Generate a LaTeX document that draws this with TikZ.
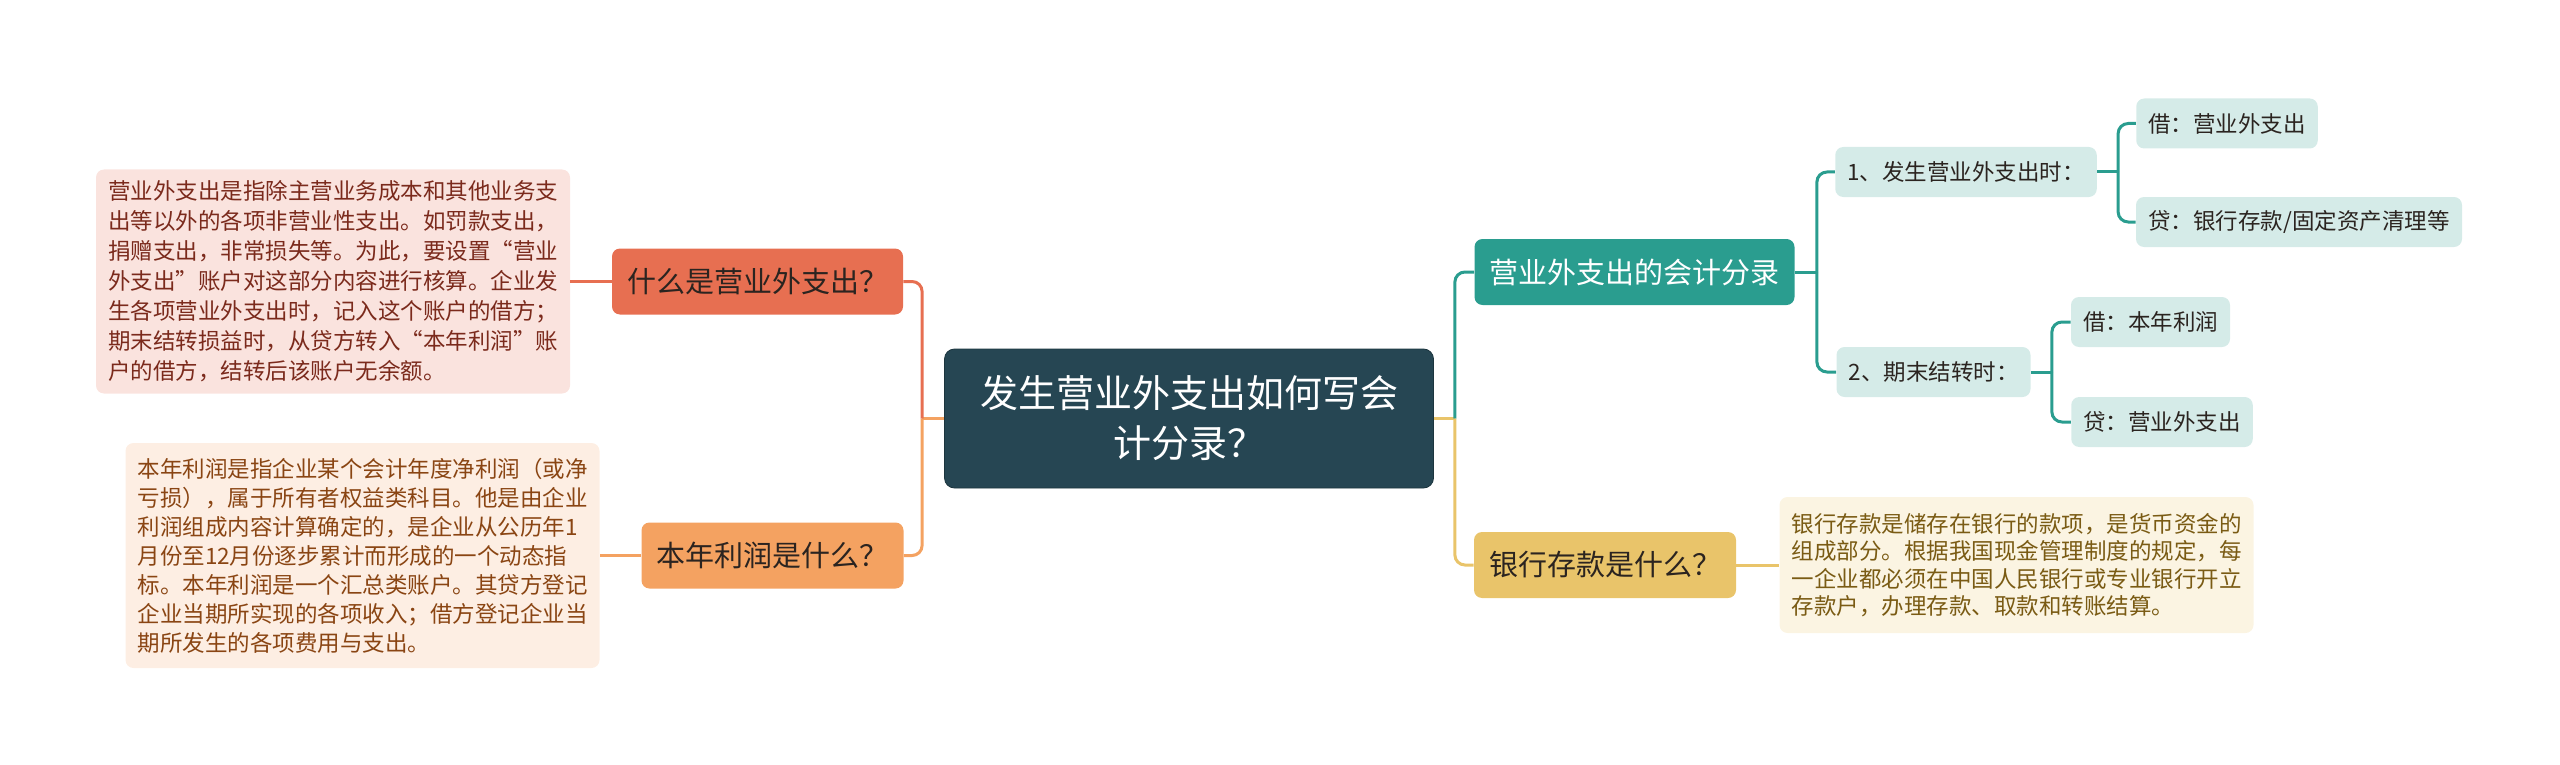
\documentclass[tikz,border=0pt]{standalone}
\usepackage{fontspec}
\setmainfont{Noto Sans CJK SC}
\usepackage{xcolor}
\usepackage{tikz}
\usetikzlibrary{positioning}

\definecolor{rootfill}{HTML}{264653}
\definecolor{tealc}{HTML}{2A9D8F}
\definecolor{yellowc}{HTML}{E9C46A}
\definecolor{orangec}{HTML}{F4A261}
\definecolor{redc}{HTML}{E76F51}
\definecolor{tealtint}{HTML}{D5EBE8}
\definecolor{redtint}{HTML}{FAE3DE}
\definecolor{orangetint}{HTML}{FDEEE3}
\definecolor{yellowtint}{HTML}{FBF4E2}
\definecolor{redtext}{HTML}{7B2A1C}
\definecolor{orangetext}{HTML}{8A4513}
\definecolor{yellowtext}{HTML}{7A5B14}
\definecolor{darktext}{HTML}{2B2420}

\begin{document}
\begin{tikzpicture}[
    x=0.5pt, y=-0.5pt,
    central/.style={
        rectangle, rounded corners=5pt,
        fill=rootfill, draw=rootfill!75!black, thin,
        minimum width=244.5pt, minimum height=69.5pt,
        text=white, align=center,
        font=\fontsize{19}{25}\selectfont
    },
    topic/.style={
        rectangle, rounded corners=4pt,
        inner xsep=7.5pt, minimum height=33pt,
        text=darktext, font=\fontsize{14.5}{17}\selectfont
    },
    entry/.style={
        rectangle, rounded corners=4pt, fill=tealtint,
        inner xsep=6pt, minimum height=25pt,
        text=darktext, font=\fontsize{11.25}{14}\selectfont
    },
    note/.style={
        rectangle, rounded corners=4pt,
        inner xsep=6pt, text width=225pt, align=left,
        font=\fontsize{11.25}{#1}\selectfont
    },
    link/.style={line width=1.5pt, rounded corners=5pt},
]

% Fondo
\useasboundingbox (0,0) rectangle (2560,765);

% Centro
\node[central] (root) at (1189,418.5)
    {发生营业外支出如何写会\\计分录？};

%% Lato sinistro
\node[topic, fill=redc] (q1) at (757.5,281.5) {什么是营业外支出？};
\node[topic, fill=orangec] (q2) at (772.5,555.5) {本年利润是什么？};

\node[note=15, fill=redtint, text=redtext, minimum height=112pt]
    (d1) at (333,281.5)
    {营业外支出是指除主营业务成本和其他业务支\\
     出等以外的各项非营业性支出。如罚款支出，\\
     捐赠支出，非常损失等。为此，要设置“营业\\
     外支出”账户对这部分内容进行核算。企业发\\
     生各项营业外支出时，记入这个账户的借方；\\
     期末结转损益时，从贷方转入“本年利润”账\\
     户的借方，结转后该账户无余额。};
\node[note=14.5, fill=orangetint, text=orangetext, minimum height=112.5pt]
    (d2) at (362.5,555.5)
    {本年利润是指企业某个会计年度净利润（或净\\
     亏损），属于所有者权益类科目。他是由企业\\
     利润组成内容计算确定的，是企业从公历年1\\
     月份至12月份逐步累计而形成的一个动态指\\
     标。本年利润是一个汇总类账户。其贷方登记\\
     企业当期所实现的各项收入；借方登记企业当\\
     期所发生的各项费用与支出。};

%% Lato destro
\node[topic, fill=tealc, text=white] (t1) at (1634.5,272) {营业外支出的会计分录};
\node[topic, fill=yellowc] (y1) at (1605,565) {银行存款是什么？};

\node[entry] (s1) at (1966,172) {1、发生营业外支出时：};
\node[entry] (s2) at (1933.5,372) {2、期末结转时：};

\node[entry] (c11) at (2227,123.5) {借：营业外支出};
\node[entry, minimum width=163pt] (c12) at (2299,222) {贷：银行存款/固定资产清理等};
\node[entry] (c21) at (2150.5,322) {借：本年利润};
\node[entry] (c22) at (2162,422) {贷：营业外支出};

\node[note=13.75, fill=yellowtint, text=yellowtext, minimum height=68pt]
    (d3) at (2016.5,565)
    {银行存款是储存在银行的款项，是货币资金的\\
     组成部分。根据我国现金管理制度的规定，每\\
     一企业都必须在中国人民银行或专业银行开立\\
     存款户，办理存款、取款和转账结算。};

%% Collegamenti
\draw[link, orangec] (root.west) -- ++(-22,0) coordinate (lhub);
\draw[link, redc] (lhub) |- (q1.east);
\draw[link, orangec] (lhub) |- (q2.east);
\draw[link, redc] (q1.west) -- (d1.east);
\draw[link, orangec] (q2.west) -- (d2.east);

\draw[link, yellowc] (root.east) -- ++(21,0) coordinate (rhub);
\draw[link, tealc] (rhub) |- (t1.west);
\draw[link, yellowc] (rhub) |- (y1.west);
\draw[link, yellowc] (y1.east) -- (d3.west);

\draw[link, tealc] (t1.east) -- ++(22,0) coordinate (thub);
\draw[link, tealc] (thub) |- (s1.west);
\draw[link, tealc] (thub) |- (s2.west);

\draw[link, tealc] (s1.east) -- ++(21,0) coordinate (s1hub);
\draw[link, tealc] (s1hub) |- (c11.west);
\draw[link, tealc] (s1hub) |- (c12.west);

\draw[link, tealc] (s2.east) -- ++(21,0) coordinate (s2hub);
\draw[link, tealc] (s2hub) |- (c21.west);
\draw[link, tealc] (s2hub) |- (c22.west);

\end{tikzpicture}
\end{document}
